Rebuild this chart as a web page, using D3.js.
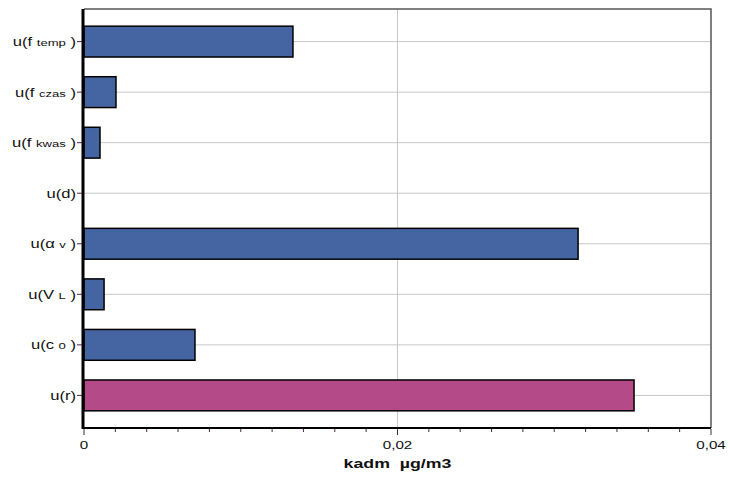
<!DOCTYPE html>
<html>
<head>
<meta charset="utf-8">
<script src="https://cdn.jsdelivr.net/npm/d3@7"></script>
<style>
  body { margin: 0; background: #fff; }
  svg { display: block; font-family: "Liberation Sans", Arial, sans-serif; }
  text { white-space: pre; }
</style>
</head>
<body>
<div id="chart"></div>
<script>
// label parts: main text, small sub text
const labelMain = ["u(f", "u(f", "u(f", "u(d)", "u(\u03b1", "u(V", "u(c", "u(r)"];
const labelSub = ["temp", "czas", "kwas", "", "v", "L", "0", ""];
const values = [0.01333, 0.00204, 0.00102, 0, 0.03152, 0.00128, 0.00708, 0.03509];
const highlight = [false, false, false, false, false, false, false, true];
const xTicks = [0, 0.02, 0.04];
const xTitle = "kadm  \u00b5g/m3";

const width = 730, height = 477;
const pLeft = 84, pRight = 711, pTop = 9, pBottom = 428;
const stretch = 1.38; // text in the original is drawn wide
const idx = d3.range(values.length);

const svg = d3.select("#chart").append("svg")
  .attr("width", width).attr("height", height);

const x = d3.scaleLinear().domain([0, 0.04]).range([pLeft, pRight]);
const y = d3.scaleBand().domain(idx).range([pTop, pBottom])
  .paddingInner(0.39).paddingOuter(0.34);
const yc = i => y(i) + y.bandwidth() / 2;

// gridlines
svg.append("g").selectAll("line").data(idx).join("line")
  .attr("x1", pLeft).attr("x2", pRight)
  .attr("y1", yc).attr("y2", yc)
  .attr("stroke", "#c8c8c8").attr("stroke-width", 1);
svg.append("line")
  .attr("x1", x(0.02)).attr("x2", x(0.02))
  .attr("y1", pTop).attr("y2", pBottom)
  .attr("stroke", "#c8c8c8").attr("stroke-width", 1);

// frame (top and right)
svg.append("path")
  .attr("d", `M${pLeft},${pTop}H${pRight}V${pBottom}`)
  .attr("fill", "none").attr("stroke", "#555").attr("stroke-width", 1.5);

// bars
svg.append("g").selectAll("rect").data(idx.filter(i => values[i] > 0)).join("rect")
  .attr("x", x(0))
  .attr("y", i => y(i))
  .attr("width", i => x(values[i]) - x(0))
  .attr("height", y.bandwidth())
  .attr("fill", i => highlight[i] ? "#b44a88" : "#4465a1")
  .attr("stroke", "#000").attr("stroke-width", 1.5);

// axes lines
svg.append("line")
  .attr("x1", pLeft - 1).attr("x2", pLeft - 1).attr("y1", pTop).attr("y2", pBottom + 1)
  .attr("stroke", "#000").attr("stroke-width", 3);
svg.append("line")
  .attr("x1", pLeft - 2).attr("x2", pRight).attr("y1", pBottom).attr("y2", pBottom)
  .attr("stroke", "#000").attr("stroke-width", 2);

// x ticks
const minor = d3.range(0, 0.0401, 0.002);
svg.append("g").selectAll("line").data(minor).join("line")
  .attr("x1", d => x(d)).attr("x2", d => x(d))
  .attr("y1", pBottom + 1).attr("y2", d => pBottom + (Math.abs(d / 0.02 - Math.round(d / 0.02)) < 1e-6 ? 7 : 4))
  .attr("stroke", "#502050").attr("stroke-width", 1);

svg.append("g").selectAll("text").data(xTicks).join("text")
  .attr("transform", d => `translate(${x(d)},449) scale(${stretch},1)`)
  .attr("text-anchor", "middle").attr("font-size", 11).attr("fill", "#111")
  .text(d => d === 0 ? "0" : String(d).replace(".", ","));

svg.append("text")
  .attr("transform", `translate(${x(0.02)},468) scale(1.42,1)`)
  .attr("text-anchor", "middle").attr("font-size", 12.5).attr("font-weight", "bold")
  .attr("fill", "#111").text(xTitle);

// y ticks
svg.append("g").selectAll("line").data(idx).join("line")
  .attr("x1", pLeft - 7).attr("x2", pLeft - 2)
  .attr("y1", yc).attr("y2", yc)
  .attr("stroke", "#502050").attr("stroke-width", 1);

// y labels
const lab = svg.append("g").selectAll("text").data(idx).join("text")
  .attr("transform", i => `translate(${pLeft - 8},${yc(i) + 4.5}) scale(${stretch},1)`)
  .attr("text-anchor", "end").attr("font-size", 12).attr("fill", "#111");
lab.each(function(i) {
  const t = d3.select(this);
  if (labelSub[i]) {
    t.append("tspan").text(labelMain[i] + " ");
    t.append("tspan").attr("font-size", 9.5).text(labelSub[i]);
    t.append("tspan").text(" )");
  } else {
    t.append("tspan").text(labelMain[i]);
  }
});
</script>
</body>
</html>
